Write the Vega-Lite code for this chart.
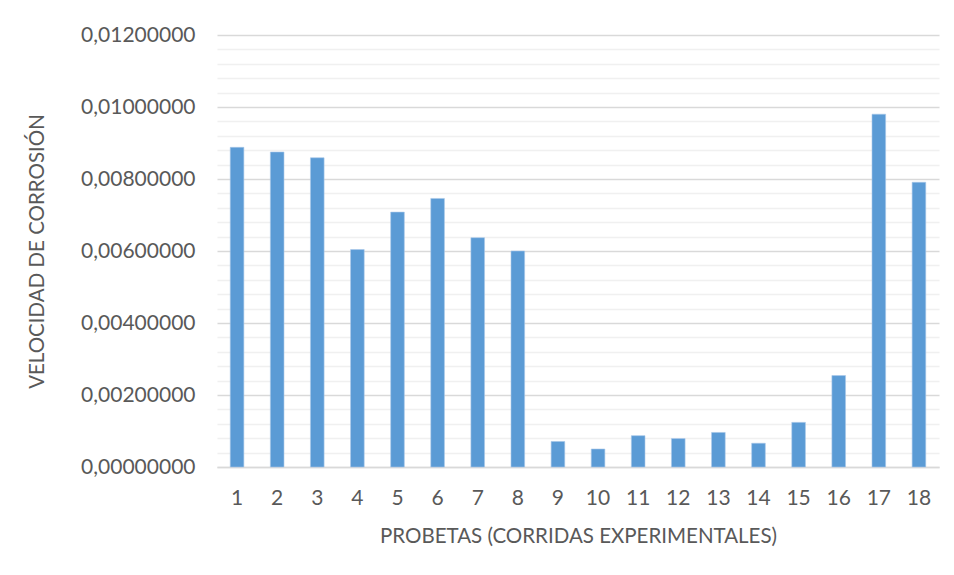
{
  "$schema": "https://vega.github.io/schema/vega-lite/v6.json",
  "autosize": "none",
  "width": 722,
  "height": 432,
  "padding": {"left": 217, "top": 35, "right": 15, "bottom": 108},
  "background": "white",
  "config": {
    "view": {"stroke": null},
    "font": "Lato",
    "axis": {"labelFont": "Lato", "titleFont": "Lato", "labelColor": "#595959", "titleColor": "#595959", "titleFontWeight": "normal"}
  },
  "data": {
    "values": [
      {"probeta": "1", "v": 0.00888},
      {"probeta": "2", "v": 0.00875},
      {"probeta": "3", "v": 0.00859},
      {"probeta": "4", "v": 0.00604},
      {"probeta": "5", "v": 0.00708},
      {"probeta": "6", "v": 0.00746},
      {"probeta": "7", "v": 0.00637},
      {"probeta": "8", "v": 0.00600},
      {"probeta": "9", "v": 0.00071},
      {"probeta": "10", "v": 0.00050},
      {"probeta": "11", "v": 0.00087},
      {"probeta": "12", "v": 0.00079},
      {"probeta": "13", "v": 0.00096},
      {"probeta": "14", "v": 0.00066},
      {"probeta": "15", "v": 0.00124},
      {"probeta": "16", "v": 0.00254},
      {"probeta": "17", "v": 0.00980},
      {"probeta": "18", "v": 0.00791}
    ]
  },
  "mark": {"type": "bar", "color": "#5b9bd5", "stroke": "#a9c8ea", "strokeWidth": 0.6},
  "encoding": {
    "x": {
      "field": "probeta",
      "type": "ordinal",
      "sort": null,
      "scale": {"paddingInner": 0.66, "paddingOuter": 0.33},
      "axis": {
        "title": "PROBETAS (CORRIDAS EXPERIMENTALES)",
        "labelAngle": 0,
        "labelFontSize": 21,
        "titleFontSize": 20.5,
        "labelPadding": 20,
        "titlePadding": 18,
        "ticks": false,
        "domain": true,
        "domainColor": "#d9d9d9",
        "domainWidth": 1.5
      }
    },
    "y": {
      "field": "v",
      "type": "quantitative",
      "scale": {"domain": [0, 0.012], "nice": false},
      "axis": {
        "title": "VELOCIDAD DE CORROSIÓN",
        "values": [0, 0.0004, 0.0008, 0.0012, 0.0016, 0.002, 0.0024, 0.0028, 0.0032, 0.0036, 0.004, 0.0044, 0.0048, 0.0052, 0.0056, 0.006, 0.0064, 0.0068, 0.0072, 0.0076, 0.008, 0.0084, 0.0088, 0.0092, 0.0096, 0.01, 0.0104, 0.0108, 0.0112, 0.0116, 0.012],
        "labelExpr": "abs(datum.value*500 - round(datum.value*500)) < 0.000001 ? replace(format(datum.value, '.8f'), '.', ',') : ''",
        "gridColor": {"condition": {"test": "abs(datum.value*500 - round(datum.value*500)) < 0.000001", "value": "#d9d9d9"}, "value": "#f0f0f0"},
        "gridWidth": 1.3,
        "labelFontSize": 21,
        "titleFontSize": 20.5,
        "labelPadding": 22,
        "titlePadding": 33,
        "ticks": false,
        "domain": false,
        "labelOverlap": false
      }
    }
  }
}
